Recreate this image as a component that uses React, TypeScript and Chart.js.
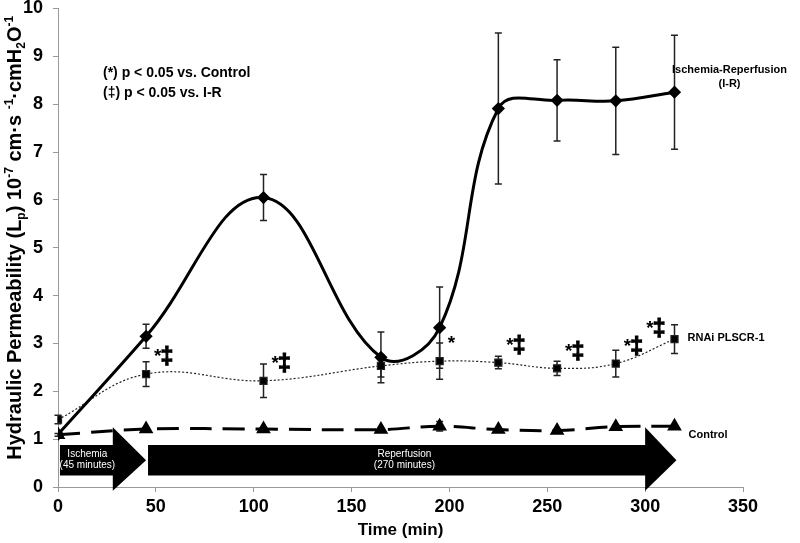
import React, { useEffect, useRef } from "react";
import { Chart, registerables } from "chart.js";

Chart.register(...registerables);

// ---------------- data ----------------
const times = [0, 45, 105, 165, 195, 225, 255, 285, 315];
const irValues = [1.1, 3.15, 6.05, 2.71, 3.33, 7.91, 8.08, 8.07, 8.25];
const irErrors = [0, 0.25, 0.48, 0.53, 0.85, 1.58, 0.85, 1.12, 1.19];
const rnaiValues = [1.41, 2.36, 2.22, 2.53, 2.63, 2.6, 2.48, 2.58, 3.09];
const rnaiErrors = [0.09, 0.26, 0.35, 0.23, 0.38, 0.13, 0.15, 0.28, 0.3];
const controlValues = [1.09, 1.21, 1.21, 1.2, 1.27, 1.2, 1.18, 1.26, 1.27];
const controlErrors = [0.03, 0.03, 0.03, 0.03, 0.1, 0.03, 0.03, 0.03, 0.03];
const vsControl = [false, true, true, false, true, true, true, true, true];
const vsIR = [false, true, true, false, false, true, true, true, true];
const starMark = "*";
const daggerMark = "‡";
const seriesNames = ["Ischemia-Reperfusion", "RNAi PLSCR-1", "Control"];
const irSubName = "(I-R)";
const legendLines = ["(*) p < 0.05 vs. Control", "(‡) p < 0.05 vs. I-R"];
const phaseTitles = ["Ischemia", "Reperfusion"];
const phaseDurations = ["(45 minutes)", "(270 minutes)"];
const phaseStart = [1, 46];
const phaseHeadStart = [28, 300];
const phaseEnd = [45, 316];
const phaseTextCenter = [15, 177];
const arrowShaft = [0.24, 0.88];
const arrowHead = [-0.08, 1.25];
const xMin = 0, xMax = 350, xStep = 50;
const yMin = 0, yMax = 10, yStep = 1;
const xTitle = "Time (min)";
const yTitleParts: [string, string][] = [
  ["Hydraulic Permeability (L", "n"],
  ["p", "sub"],
  [") 10", "n"],
  ["-7", "sup"],
  [" cm·s ", "n"],
  ["-1", "sup"],
  ["·cmH", "n"],
  ["2", "sub"],
  ["O", "n"],
  ["-1", "sup"],
];

const FONT = "'Liberation Sans', Arial, Helvetica, sans-serif";

const toXY = (vals: number[]) => times.map((t, i) => ({ x: t, y: vals[i] }));

function drawErrorBars(chart: any, vals: number[], errs: number[], color: string) {
  const { ctx, scales } = chart;
  const xs = scales.x, ys = scales.y;
  ctx.save();
  ctx.strokeStyle = color;
  ctx.lineWidth = 1.5;
  for (let i = 0; i < times.length; i++) {
    if (!errs[i]) continue;
    const px = xs.getPixelForValue(times[i]);
    const top = ys.getPixelForValue(vals[i] + errs[i]);
    const bot = ys.getPixelForValue(vals[i] - errs[i]);
    ctx.beginPath();
    ctx.moveTo(px, top);
    ctx.lineTo(px, bot);
    ctx.moveTo(px - 3.5, top);
    ctx.lineTo(px + 3.5, top);
    ctx.moveTo(px - 3.5, bot);
    ctx.lineTo(px + 3.5, bot);
    ctx.stroke();
  }
  ctx.restore();
}

const annotationPlugin = {
  id: "annotations",
  beforeDatasetsDraw(chart: any) {
    const { ctx, scales } = chart;
    const xs = scales.x, ys = scales.y;
    ctx.save();
    for (let i = 0; i < phaseStart.length; i++) {
      const x0 = xs.getPixelForValue(phaseStart[i]);
      const xh = xs.getPixelForValue(phaseHeadStart[i]);
      const xt = xs.getPixelForValue(phaseEnd[i]);
      const sTop = ys.getPixelForValue(arrowShaft[1]);
      const sBot = ys.getPixelForValue(arrowShaft[0]);
      const hTop = ys.getPixelForValue(arrowHead[1]);
      const hBot = ys.getPixelForValue(arrowHead[0]);
      const mid = (sTop + sBot) / 2;
      ctx.fillStyle = "#000";
      ctx.beginPath();
      ctx.moveTo(x0, sTop);
      ctx.lineTo(xh, sTop);
      ctx.lineTo(xh, hTop);
      ctx.lineTo(xt, mid);
      ctx.lineTo(xh, hBot);
      ctx.lineTo(xh, sBot);
      ctx.lineTo(x0, sBot);
      ctx.closePath();
      ctx.fill();
      ctx.fillStyle = "#fff";
      ctx.font = `10px ${FONT}`;
      ctx.textAlign = "center";
      ctx.textBaseline = "middle";
      const cx = xs.getPixelForValue(phaseTextCenter[i]);
      ctx.fillText(phaseTitles[i], cx, mid - 6);
      ctx.fillText(phaseDurations[i], cx, mid + 5);
    }
    ctx.restore();
    drawErrorBars(chart, irValues, irErrors, "#222");
    drawErrorBars(chart, rnaiValues, rnaiErrors, "#222");
    drawErrorBars(chart, controlValues, controlErrors, "#222");
  },
  afterDatasetsDraw(chart: any) {
    const { ctx, scales, chartArea } = chart;
    const xs = scales.x, ys = scales.y;
    ctx.save();
    ctx.fillStyle = "#000";
    ctx.strokeStyle = "#000";
    // significance marks
    ctx.textBaseline = "middle";
    ctx.textAlign = "left";
    const last = times.length - 1;
    const starFont = `bold 19px ${FONT}`;
    const dagFont = `bold 23px ${FONT}`;
    for (let i = 0; i < times.length; i++) {
      if (!vsControl[i] && !vsIR[i]) continue;
      const px = xs.getPixelForValue(times[i]);
      const py = ys.getPixelForValue(rnaiValues[i]);
      ctx.font = starFont;
      const sw = vsControl[i] ? ctx.measureText(starMark).width : 0;
      ctx.font = dagFont;
      const dw = vsIR[i] ? ctx.measureText(daggerMark).width : 0;
      let x0: number, yc: number;
      if (i === last) {
        x0 = px - 8 - sw - dw;
        yc = py - 11;
      } else {
        x0 = px + 8;
        yc = py - 18;
      }
      if (vsControl[i]) {
        ctx.font = starFont;
        ctx.fillText(starMark, x0, yc + 1);
      }
      if (vsIR[i]) {
        ctx.font = dagFont;
        ctx.lineWidth = 1.2;
        ctx.fillText(daggerMark, x0 + sw - 1, yc + 2);
        ctx.strokeText(daggerMark, x0 + sw - 1, yc + 2);
      }
    }
    // series labels
    ctx.font = `bold 11px ${FONT}`;
    const lx = xs.getPixelForValue(times[last]);
    const irY = ys.getPixelForValue(irValues[last]);
    const rnY = ys.getPixelForValue(rnaiValues[last]);
    const ctY = ys.getPixelForValue(controlValues[last]);
    ctx.textAlign = "center";
    ctx.fillText(seriesNames[0], lx + 55, irY - 22);
    ctx.fillText(irSubName, lx + 55, irY - 8);
    ctx.textAlign = "left";
    ctx.fillText(seriesNames[1], lx + 13, rnY - 1);
    ctx.fillText(seriesNames[2], lx + 14, ctY + 9);
    // significance legend
    ctx.font = `bold 14px ${FONT}`;
    ctx.fillText(legendLines[0], chartArea.left + 45, chartArea.top + 65);
    ctx.fillText(legendLines[1], chartArea.left + 45, chartArea.top + 85);
    // y-axis title with sub/superscripts
    const mainFont = `bold 20px ${FONT}`;
    const smallFont = `bold 12px ${FONT}`;
    let total = 0;
    for (const [t, k] of yTitleParts) {
      ctx.font = k === "n" ? mainFont : smallFont;
      total += ctx.measureText(t).width;
    }
    ctx.translate(21, (chartArea.top + chartArea.bottom) / 2 - 10);
    ctx.rotate(-Math.PI / 2);
    let cur = -total / 2;
    ctx.textAlign = "left";
    ctx.textBaseline = "alphabetic";
    for (const [t, k] of yTitleParts) {
      ctx.font = k === "n" ? mainFont : smallFont;
      const dy = k === "sup" ? -8 : k === "sub" ? 4 : 0;
      ctx.fillText(t, cur, dy);
      cur += ctx.measureText(t).width;
    }
    ctx.restore();
  },
};

export default function App() {
  const ref = useRef<HTMLCanvasElement | null>(null);
  useEffect(() => {
    if (!ref.current) return;
    const chart = new Chart(ref.current, {
      type: "line",
      data: {
        datasets: [
          {
            label: seriesNames[0],
            data: toXY(irValues),
            borderColor: "#000",
            backgroundColor: "#000",
            borderWidth: 3,
            pointStyle: "rectRot",
            pointRadius: 4.5,
            tension: 0.4,
          },
          {
            label: seriesNames[1],
            data: toXY(rnaiValues),
            borderColor: "#222",
            backgroundColor: "#000",
            borderWidth: 1.2,
            borderDash: [2, 2],
            pointStyle: "rect",
            pointRadius: 5,
            tension: 0.4,
          },
          {
            label: seriesNames[2],
            data: toXY(controlValues),
            borderColor: "#000",
            backgroundColor: "#000",
            borderWidth: 3,
            borderDash: [22, 11],
            pointStyle: "triangle",
            pointRadius: 5.5,
            tension: 0.4,
          },
        ],
      },
      options: {
        animation: false,
        responsive: false,
        layout: { padding: { left: 0, top: 8, right: 57, bottom: 0 } },
        plugins: { legend: { display: false }, tooltip: { enabled: false } },
        scales: {
          x: {
            type: "linear",
            min: xMin,
            max: xMax,
            ticks: { stepSize: xStep, color: "#000", font: { family: FONT, size: 18, weight: "bold" }, padding: 4, maxRotation: 0 },
            grid: { display: true, drawOnChartArea: false, drawTicks: true, tickLength: 5, color: "#999" },
            border: { display: true, color: "#999" },
            title: { display: true, text: xTitle, color: "#000", font: { family: FONT, size: 17, weight: "bold" }, padding: { top: 0, bottom: 2 } },
            afterFit(scale: any) {
              scale.height = 56;
              scale.paddingLeft = 0;
              scale.paddingRight = 0;
            },
          },
          y: {
            type: "linear",
            min: yMin,
            max: yMax,
            ticks: { stepSize: yStep, color: "#000", font: { family: FONT, size: 18, weight: "bold" }, padding: 10 },
            grid: { display: true, drawOnChartArea: false, drawTicks: true, tickLength: 5, color: "#999" },
            border: { display: true, color: "#999" },
            afterFit(scale: any) {
              scale.width = 58;
              scale.paddingTop = 0;
              scale.paddingBottom = 0;
            },
          },
        },
      },
      plugins: [annotationPlugin],
    } as any);
    return () => chart.destroy();
  }, []);
  return (
    <div style={{ position: "absolute", left: 0, top: 0, width: 800, height: 543, background: "#fff" }}>
      <canvas ref={ref} width={800} height={543} />
    </div>
  );
}
